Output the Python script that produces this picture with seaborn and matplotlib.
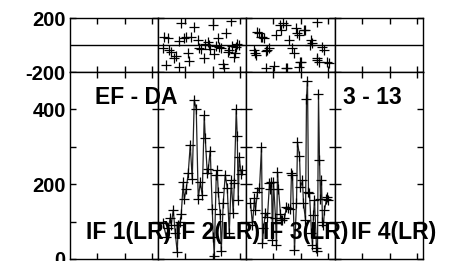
import numpy as np
import pandas as pd
import matplotlib
matplotlib.use('Agg')
import matplotlib.pyplot as plt
import seaborn as sns

# time within each IF window (same units as the window length 0-88)
if_labels = ['IF 1(LR)', 'IF 2(LR)', 'IF 3(LR)', 'IF 4(LR)']
window = 88.25

if2_amp_t = [5, 8, 10, 12, 13, 15, 17, 19, 20, 22, 23, 25, 26, 28, 30, 32, 34, 36, 38, 40,
             42, 44, 46, 47, 49, 50, 52, 54, 55, 56, 58, 59, 60, 62, 63, 65, 67, 69, 71, 73,
             75, 76, 78, 79, 80, 81, 83, 84]
if2_amp = [95, 60, 82, 110, 92, 131, 70, 18, 92, 100, 120, 205, 160, 187, 230, 305, 213, 425, 400, 160,
           205, 170, 384, 324, 230, 240, 290, 134, 60, 8, 224, 237, 179, 120, 21, 150, 225, 190, 70, 210,
           123, 203, 400, 330, 158, 272, 226, 237]

if3_amp_t = [4, 6, 8, 9, 11, 13, 15, 16, 17, 19, 21, 23, 24, 25, 26, 27, 29, 30, 31, 32,
             34, 35, 36, 38, 40, 42, 44, 45, 46, 48, 50, 51, 53, 54, 56, 57, 59, 60, 61, 62,
             63, 65, 66, 67, 68, 70, 71, 72, 73, 74, 75, 76, 77, 78, 80, 81, 82]
if3_amp = [150, 91, 163, 131, 179, 189, 299, 43, 82, 123, 113, 203, 187, 205, 51, 205, 110, 37, 232, 187,
           120, 104, 105, 109, 140, 136, 134, 229, 224, 24, 150, 312, 276, 192, 210, 149, 105, 429, 477, 179,
           176, 69, 37, 118, 157, 29, 21, 440, 266, 160, 211, 99, 92, 131, 160, 165, 158]

if2_ph_t = [5, 6, 8, 10, 11, 13, 16, 18, 21, 21, 23, 26, 28, 30, 31, 33, 36, 40, 41, 43,
            46, 47, 50, 51, 52, 55, 56, 58, 60, 61, 63, 65, 66, 68, 70, 71, 73, 74, 76, 77,
            78, 79, 81]
if2_ph = [-22, 59, -148, 52, -40, -55, -96, -80, 30, -163, 165, 52, 59, -59, -118, 59, 130, 37, -22, -30,
          -96, 10, 22, 0, -30, 145, -67, -5, 52, -15, -20, -140, -170, 89, -50, -37, 178, -10, -89, -60,
          -15, 5, 0]

if3_ph_t = [8, 9, 10, 11, 13, 15, 16, 18, 20, 20, 21, 23, 28, 30, 34, 35, 37, 40, 40, 41,
            43, 46, 48, 50, 51, 53, 53, 54, 55, 58, 59, 64, 65, 66, 71, 71, 71, 73, 76, 78,
            81, 83]
if3_ph = [-37, -59, -74, 96, 89, 59, 59, 52, -44, -170, -37, -22, -155, 74, 148, 111, 163, 148, -170, -170,
          37, -22, -59, 126, 89, 74, -163, -126, -126, 111, 111, 0, 37, 15, 170, -96, -111, -126, -15, -37,
          -126, -133]

amp_data = {1: (if2_amp_t, if2_amp), 2: (if3_amp_t, if3_amp)}
ph_data = {1: (if2_ph_t, if2_ph), 2: (if3_ph_t, if3_ph)}

sns.set_style('ticks')
plt.rcParams['font.family'] = ['Liberation Sans', 'DejaVu Sans']
plt.rcParams['font.weight'] = 'bold'
for key in ['text.color', 'xtick.color', 'ytick.color', 'axes.labelcolor', 'axes.edgecolor']:
    plt.rcParams[key] = 'black'

W, H = 452, 261
fig = plt.figure(figsize=(W / 100, H / 100), dpi=100)
gs = fig.add_gridspec(2, 4, left=70 / W, right=423 / W, top=1 - 18 / H, bottom=1 - 259 / H,
                      height_ratios=[54, 187], wspace=0, hspace=0)

xticks = [27, 55, 82]
for col in range(4):
    ax_ph = fig.add_subplot(gs[0, col])
    ax_amp = fig.add_subplot(gs[1, col])

    if col in ph_data:
        t, v = ph_data[col]
        sns.scatterplot(x=t, y=v, ax=ax_ph, marker='+', color='black', s=50, linewidth=0.9)
    if col in amp_data:
        t, v = amp_data[col]
        df = pd.DataFrame({'t': t, 'amp': v})
        sns.lineplot(data=df, x='t', y='amp', ax=ax_amp, color='#222222', lw=0.9,
                     marker='+', markersize=7.5, markeredgewidth=0.9, markeredgecolor='black')

    ax_ph.axhline(0, color='black', lw=1)
    ax_ph.set_ylim(-200, 200)
    ax_amp.set_ylim(0, 500)
    for ax in (ax_ph, ax_amp):
        ax.set_xlim(0, window)
        ax.set_xticks(xticks)
        ax.set_xlabel('')
        ax.set_ylabel('')
        ax.tick_params(direction='in', length=4, width=1, top=True, right=True,
                       labelbottom=False, labelsize=14.5, pad=3, colors='black')
        for s in ax.spines.values():
            s.set_linewidth(1)
            s.set_color('black')
    ax_ph.set_yticks([-200, 200])
    ax_amp.set_yticks([0, 100, 200, 300, 400])
    if col == 0:
        ax_ph.set_yticklabels(['-200', '200'])
        ax_amp.set_yticklabels(['0', '', '200', '', '400'])
    else:
        ax_ph.tick_params(labelleft=False)
        ax_amp.tick_params(labelleft=False)

    fig.text((70 + window * col + 59) / W, 1 - 232 / H, if_labels[col],
             ha='center', va='center', fontsize=16.5, fontweight='bold')

fig.text(95 / W, 1 - 97 / H, 'EF - DA', ha='left', va='center', fontsize=16.5, fontweight='bold')
fig.text(343 / W, 1 - 97 / H, '3 - 13', ha='left', va='center', fontsize=16.5, fontweight='bold')

fig.savefig('out.png', dpi=100)
